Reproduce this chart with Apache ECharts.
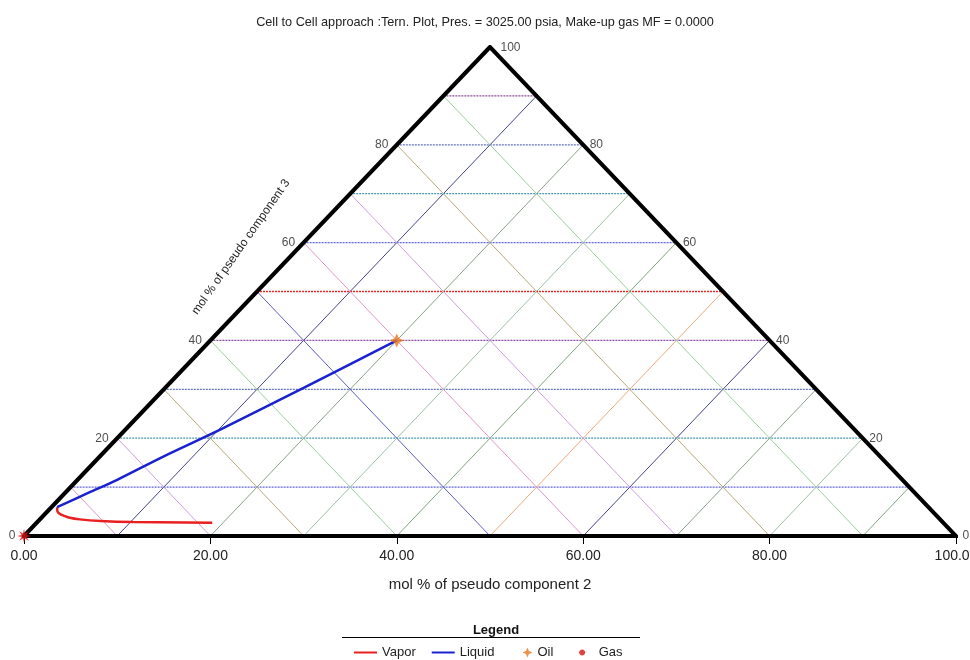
<!DOCTYPE html>
<html>
<head>
<meta charset="utf-8">
<title>Ternary plot</title>
<script src="https://cdn.jsdelivr.net/npm/echarts@6/dist/echarts.min.js"></script>
<style>
  html, body { margin: 0; padding: 0; background: #fff; }
  #chart { width: 970px; height: 660px; }
</style>
</head>
<body>
<div id="chart"></div>
<script>
// ---- data ----
const titleText = 'Cell to Cell approach :Tern. Plot, Pres. = 3025.00 psia, Make-up gas MF = 0.0000';
const gridTicks = [10, 20, 30, 40, 50, 60, 70, 80, 90];   // ternary grid lines
const baseTicks = [0, 20, 40, 60, 80, 100];               // component 2 axis
const leftEdgeTicks = [0, 20, 40, 60, 80];                // component 3, left side
const rightEdgeTicks = [0, 20, 40, 60, 80, 100];          // component 3, right side + apex
const triangle = [[0, 0], [50, 100], [100, 0], [0, 0], [50, 100]];
const liquid = [[40, 40], [30, 30.3], [21, 21.7], [15, 16.3], [10, 11.5], [7, 8.9], [3.55, 5.9]];
const vapor = [[3.55, 5.9], [3.6, 5.0], [4.05, 4.3], [4.8, 3.8], [6, 3.4], [8.2, 3.07], [11.7, 2.86], [20.2, 2.72]];
const oil = [[40, 40]];
const gas = [[0, 0]];

// ---- styling ----
const FONT = '"Liberation Sans", Arial, sans-serif';
const TEXT = '#222';
const hPalette = ['#6464d8', '#4896ac', '#6474bc', '#8a4c9e', '#ee2a2a'];
const nPalette = ['#e096c6', '#cc9edc', '#b8a878', '#9ccc9c', '#5c5cc4'];
const pPalette = ['#44448c', '#8aa08a', '#9cc0a6', '#7ea47e', '#f0a878'];
const oilSymbol = 'path://M0,-10L3.2,-3.2L10,0L3.2,3.2L0,10L-3.2,3.2L-10,0L-3.2,-3.2Z';
const gasSymbol = 'path://M0,-10L1.5,-3.5L7,-7L3.5,-1.5L10,0L3.5,1.5L7,7L1.5,3.5L0,10L-1.5,3.5L-7,7L-3.5,1.5L-10,0L-3.5,-1.5L-7,-7L-1.5,-3.5Z';
// legend glyphs: the star is padded on the left so it sits towards its label,
// the dot is padded vertically so it stays small
const oilIcon = 'path://M-36,0L-36,0M0,-10L3,-3L10,0L3,3L0,10L-3,3L-10,0L-3,-3Z';
const gasIcon = 'path://M0,-10L0,-10M0,10L0,10M6,0C6,3.3 3.3,6 0,6C-3.3,6 -6,3.3 -6,0C-6,-3.3 -3.3,-6 0,-6C3.3,-6 6,-3.3 6,0Z';

function gridLine(points, color, dotted) {
  return {
    type: 'line', data: points, symbol: 'none', silent: true, z: 1,
    lineStyle: dotted
      ? { color: color, width: 1.3, type: [2, 1] }
      : { color: color, width: 1, type: 'solid' }
  };
}

const gridSeries = [];
gridTicks.forEach((k, i) => {
  // constant component 3
  gridSeries.push(gridLine([[k / 2, k], [100 - k / 2, k]], hPalette[i % 5], true));
  // parallel to the right edge
  gridSeries.push(gridLine([[k, 0], [k / 2, k]], nPalette[i % 5], false));
  // parallel to the left edge
  gridSeries.push(gridLine([[k, 0], [50 + k / 2, 100 - k]], pPalette[i % 5], false));
});

function edgeLabels(values, toPoint, side) {
  return {
    type: 'scatter', symbolSize: 1, silent: true, z: 5,
    data: values.map(v => ({
      value: toPoint(v).concat([v]),
      // the apex label clears the mitred corner
      label: v === 100 ? { distance: 10, offset: [0, 1] } : undefined
    })),
    itemStyle: { color: 'rgba(0,0,0,0)' },
    label: {
      show: true, position: side, distance: side === 'left' ? 8 : 6,
      formatter: p => String(p.value[2]),
      fontFamily: FONT, fontSize: 12, color: TEXT
    }
  };
}

const hiddenDot = { color: 'rgba(0,0,0,0)', borderWidth: 0 };

const option = {
  animation: false,
  backgroundColor: '#ffffff',
  title: {
    text: titleText, left: 'center', top: 11,
    textStyle: { fontFamily: FONT, fontSize: 12.7, fontWeight: 'normal', color: TEXT }
  },
  grid: { left: 24, right: 14, top: 47, bottom: 124, containLabel: false, outerBoundsMode: 'none' },
  xAxis: {
    type: 'value', min: 0, max: 100, interval: 20,
    axisLine: { show: false },
    axisTick: { show: true, length: 8, lineStyle: { color: '#000', width: 1 } },
    splitLine: { show: false },
    axisLabel: {
      margin: 13, fontFamily: FONT, fontSize: 14, color: TEXT,
      showMinLabel: true, showMaxLabel: true, hideOverlap: false,
      formatter: v => v.toFixed(2)
    },
    name: 'mol % of pseudo component 2', nameLocation: 'middle', nameGap: 41,
    nameTextStyle: { fontFamily: FONT, fontSize: 15, color: TEXT }
  },
  yAxis: { type: 'value', min: 0, max: 100, show: false },
  legend: {
    left: 353, top: 646, padding: 0,
    itemWidth: 23, itemHeight: 10, itemGap: 15,
    textStyle: { fontFamily: FONT, fontSize: 13, color: TEXT },
    // a little trailing room after "Oil" keeps the last entry spaced out
    formatter: name => (name === 'Oil' ? name + '\u00a0\u00a0\u00a0' : name),
    data: [
      { name: 'Vapor', itemStyle: hiddenDot },
      { name: 'Liquid', itemStyle: hiddenDot },
      { name: 'Oil', icon: oilIcon },
      { name: 'Gas', icon: gasIcon }
    ]
  },
  graphic: [
    {
      type: 'text', x: 241, y: 247, rotation: 55 * Math.PI / 180, silent: true,
      style: {
        text: 'mol % of pseudo component 3', fontFamily: FONT, fontSize: 12,
        fill: TEXT, align: 'center', verticalAlign: 'middle'
      }
    },
    {
      type: 'text', x: 496, y: 630, silent: true,
      style: {
        text: 'Legend', fontFamily: FONT, fontSize: 13, fontWeight: 'bold',
        fill: '#111', align: 'center', verticalAlign: 'middle'
      }
    },
    {
      type: 'line', silent: true,
      shape: { x1: 342, y1: 637.5, x2: 640, y2: 637.5 },
      style: { stroke: '#000', lineWidth: 1 }
    }
  ],
  series: gridSeries.concat([
    {
      type: 'line', data: triangle, symbol: 'none', silent: true, z: 4,
      lineStyle: { color: '#000', width: 4, join: 'miter' }
    },
    edgeLabels(leftEdgeTicks, v => [v / 2, v], 'left'),
    edgeLabels(rightEdgeTicks, v => [100 - v / 2, v], 'right'),
    {
      name: 'Vapor', type: 'line', data: vapor, symbol: 'none', smooth: 0.4, z: 6,
      itemStyle: { color: '#e82020' },
      lineStyle: { color: '#e82020', width: 2.5 }
    },
    {
      name: 'Liquid', type: 'line', data: liquid, symbol: 'none', smooth: 0.3, z: 6,
      itemStyle: { color: '#1a22d0' },
      lineStyle: { color: '#1a22d0', width: 2.5 }
    },
    {
      name: 'Oil', type: 'scatter', data: oil, symbol: oilSymbol, symbolSize: 14, z: 7,
      itemStyle: { color: '#e8781e' }
    },
    {
      name: 'Gas', type: 'scatter', data: gas, symbol: gasSymbol, symbolSize: 14, z: 7,
      itemStyle: { color: '#e01010' }
    }
  ])
};

const chart = echarts.init(document.getElementById('chart'), null, { renderer: 'canvas' });
chart.setOption(option);
</script>
</body>
</html>
